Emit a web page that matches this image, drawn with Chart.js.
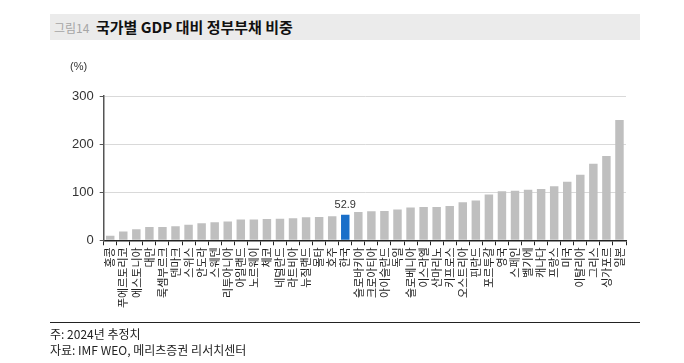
<!DOCTYPE html>
<html>
<head>
<meta charset="utf-8">
<script src="https://cdn.jsdelivr.net/npm/chart.js@4.4.0/dist/chart.umd.min.js"></script>
<style>
  body { margin: 0; background: #fff; font-family: "Noto Sans CJK KR", "Liberation Sans", sans-serif; }
  #wrap { position: relative; width: 684px; height: 363px; overflow: hidden; }
  #head { position: absolute; left: 50px; top: 14px; width: 590px; height: 26px; background: #ebebeb; }
  #head .fig { position: absolute; left: 4px; top: 5px; font-size: 12px; color: #a6a6a6; }
  #head .ttl { position: absolute; left: 46px; top: 2px; font-size: 15px; font-weight: bold; color: #111; }
  #unit { position: absolute; left: 70px; top: 60px; font-size: 11px; color: #333; font-family: "Liberation Sans", sans-serif; }
  #rule { position: absolute; left: 50px; top: 322px; width: 590px; height: 1px; background: #222; }
  .note { position: absolute; left: 50px; font-size: 12px; color: #222; }
  #box { position: absolute; left: 0; top: 0; width: 684px; height: 363px; }
</style>
</head>
<body>
<div id="wrap">
  <div id="head"><span class="fig">그림14</span><span class="ttl">국가별 GDP 대비 정부부채 비중</span></div>
  <div id="box"><canvas id="debtChart"></canvas></div>
  <div id="unit">(%)</div>
  <div id="rule"></div>
  <div class="note" style="top:325px">주: 2024년 추정치</div>
  <div class="note" style="top:341px">자료: IMF WEO, 메리츠증권 리서치센터</div>
</div>
<script>
// 국가 목록 (정부부채 비중 오름차순)
const countries = ['홍콩', '푸에르토리코', '에스토니아', '대만', '룩셈부르크', '덴마크', '스위스', '안도라', '스웨덴', '리투아니아',
  '아일랜드', '노르웨이', '체코', '네덜란드', '라트비아', '뉴질랜드', '몰타', '호주', '한국', '슬로바키아',
  '크로아티아', '아이슬란드', '독일', '슬로베니아', '이스라엘', '산마리노', '키프로스', '오스트리아', '핀란드', '포르투갈',
  '영국', '스페인', '벨기에', '캐나다', '프랑스', '미국', '이탈리아', '그리스', '싱가포르', '일본'];
const debtRatio = [9.5, 18.5, 23, 27.5, 27.5, 29, 32.5, 35.5, 37.5, 39,
  43, 43, 44.5, 45, 46, 48, 48.5, 50, 52.9, 59,
  60.5, 61, 64, 68, 69, 69, 71.5, 79, 82.5, 95,
  102, 103, 105, 106.5, 112.5, 121.5, 136, 159, 175, 250];
const yTicks = [0, 100, 200, 300];
const highlight = '한국';

const barColors = countries.map(c => c === highlight ? '#1a6fc9' : '#bfbfbf');

// 한국 막대 위에 값 표시
const valueLabel = {
  id: 'valueLabel',
  afterDatasetsDraw(chart) {
    const idx = countries.indexOf(highlight);
    const bar = chart.getDatasetMeta(0).data[idx];
    const c = chart.ctx;
    c.save();
    c.font = '11px "Liberation Sans", sans-serif';
    c.fillStyle = '#333';
    c.textAlign = 'center';
    c.textBaseline = 'bottom';
    c.fillText(debtRatio[idx].toFixed(1), bar.x, bar.y - 4);
    c.restore();
  }
};

const ctx = document.getElementById('debtChart').getContext('2d');
new Chart(ctx, {
  type: 'bar',
  data: {
    labels: countries,
    datasets: [{
      data: debtRatio,
      backgroundColor: barColors,
      barPercentage: 0.72,
      categoryPercentage: 0.9
    }]
  },
  options: {
    responsive: true,
    maintainAspectRatio: false,
    animation: false,
    layout: { padding: { left: 66, right: 58, top: 96, bottom: 53 } },
    plugins: {
      legend: { display: false },
      tooltip: { enabled: false }
    },
    scales: {
      x: {
        border: { color: '#222', width: 1.5 },
        grid: { drawOnChartArea: false, drawTicks: true, tickLength: 5, tickColor: '#222', offset: true },
        ticks: {
          autoSkip: false, minRotation: 90, maxRotation: 90, padding: 2,
          color: '#222',
          font: { size: 11, family: '"Noto Sans CJK KR", sans-serif' }
        }
      },
      y: {
        min: 0, max: 300,
        afterBuildTicks: axis => { axis.ticks = yTicks.map(v => ({ value: v })); },
        border: { color: '#555', width: 1.5 },
        grid: { color: '#d9d9d9', tickColor: '#555', tickLength: 4 },
        ticks: {
          color: '#333', padding: 6,
          font: { size: 13, family: '"Liberation Sans", sans-serif' }
        }
      }
    }
  },
  plugins: [valueLabel]
});
</script>
</body>
</html>
